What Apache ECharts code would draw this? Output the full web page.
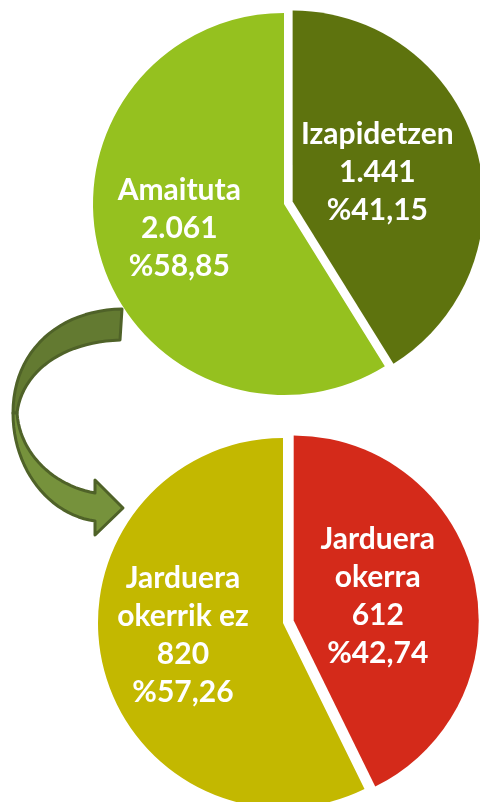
<!DOCTYPE html>
<html lang="eu">
<head>
<meta charset="UTF-8">
<title>Espedienteak</title>
<script src="https://cdn.jsdelivr.net/npm/echarts@6/dist/echarts.min.js"></script>
<style>
  html, body { margin: 0; padding: 0; background: #fff; }
  #main { width: 480px; height: 802px; }
</style>
</head>
<body>
<div id="main"></div>
<script>
// goiko tarta
var topNames = ['Izapidetzen', 'Amaituta'];
var topValues = [1441, 2061];
var topColors = ['#5E730E', '#95C11F'];
// beheko tarta
var bottomNames = ['Jarduera\nokerra', 'Jarduera\nokerrik ez'];
var bottomValues = [612, 820];
var bottomColors = ['#D42A1A', '#C3B800'];
// etiketen desplazamendua (px)
var topLabelOffsets = [[-10, -2], [-10, -3]];
var bottomLabelOffsets = [[-9, -3], [-7, -9]];

function thousands(v) {
    return String(v).replace(/\B(?=(\d{3})+(?!\d))/g, '.');
}

function buildData(names, values, colors, offsets) {
    var total = values.reduce(function (a, b) { return a + b; }, 0);
    return names.map(function (n, i) {
        return {
            name: n,
            value: values[i],
            pct: (values[i] / total * 100).toFixed(2).replace('.', ','),
            selected: i === 0,
            label: { offset: offsets[i] },
            select: { label: { offset: offsets[i] } },
            itemStyle: { color: colors[i] }
        };
    });
}

var topData = buildData(topNames, topValues, topColors, topLabelOffsets);
var bottomData = buildData(bottomNames, bottomValues, bottomColors, bottomLabelOffsets);
var pctOf = {};
topData.concat(bottomData).forEach(function (d) { pctOf[d.name] = d.pct; });

// gezi kurbatua: bezier zatiak puntu bihurtu
function bez(p0, p1, p2, p3) {
    var pts = [];
    for (var i = 0; i <= 24; i++) {
        var t = i / 24, u = 1 - t;
        pts.push([
            u*u*u*p0[0] + 3*u*u*t*p1[0] + 3*u*t*t*p2[0] + t*t*t*p3[0],
            u*u*u*p0[1] + 3*u*u*t*p1[1] + 3*u*t*t*p2[1] + t*t*t*p3[1]
        ]);
    }
    return pts;
}
var arrowTop = bez([122, 309], [60, 310], [13, 350], [13, 413])
    .concat(bez([17, 413], [22, 372], [62, 342], [120, 340]));
var arrowBottom = bez([13, 413], [13, 470], [50, 515], [95, 521])
    .concat([[95, 535], [123, 508], [95, 480]])
    .concat(bez([95, 493], [55, 486], [20, 455], [17, 413]));

var labelStyle = {
    show: true,
    position: 'inside',
    color: '#fff',
    fontFamily: 'Lato',
    fontWeight: 'bold',
    fontSize: 30,
    lineHeight: 38,
    align: 'center',
    formatter: function (p) {
        return p.name + '\n' + thousands(p.value) + '\n%' + pctOf[p.name];
    }
};

var chart = echarts.init(document.getElementById('main'));
chart.setOption({
    animation: false,
    graphic: [
        {
            type: 'polygon', z: 0,
            shape: { points: arrowTop },
            style: { fill: '#637A31', stroke: '#4F6228', lineWidth: 3, lineJoin: 'round' }
        },
        {
            type: 'polygon', z: 0,
            shape: { points: arrowBottom },
            style: { fill: '#76923C', stroke: '#4F6228', lineWidth: 3, lineJoin: 'round' }
        }
    ],
    series: [
        {
            type: 'pie',
            center: [284, 204],
            radius: 191,
            startAngle: 90,
            selectedMode: 'single',
            selectedOffset: 9,
            silent: true,
            z: 3,
            label: labelStyle,
            labelLine: { show: false },
            emphasis: { disabled: true },
            data: topData
        },
        {
            type: 'pie',
            center: [283, 623],
            radius: 185,
            startAngle: 90,
            selectedMode: 'single',
            selectedOffset: 11,
            silent: true,
            z: 3,
            label: labelStyle,
            labelLine: { show: false },
            emphasis: { disabled: true },
            data: bottomData
        }
    ]
});
</script>
</body>
</html>
